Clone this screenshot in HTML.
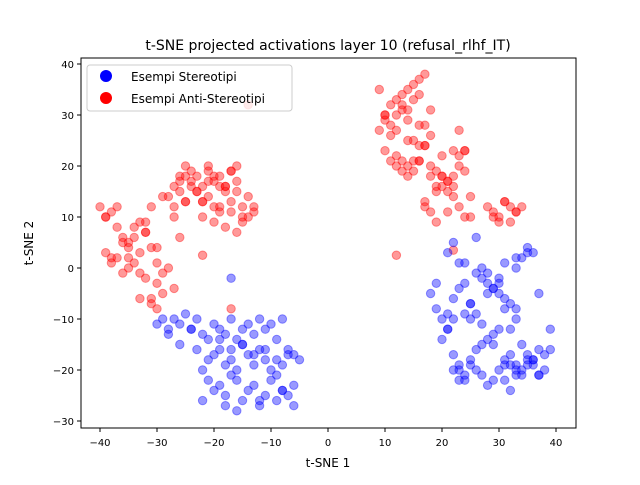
<!DOCTYPE html>
<html><head><meta charset="utf-8"><style>
body{margin:0;background:#fff}
svg text{font-family:"DejaVu Sans","Liberation Sans",sans-serif;fill:#000}
</style></head><body>
<svg id="c" width="640" height="480" xmlns="http://www.w3.org/2000/svg">
<rect width="640" height="480" fill="#fff"/>
<text x="328" y="50" font-size="14" text-anchor="middle">t-SNE projected activations layer 10 (refusal_rlhf_IT)</text>
<g id="marks"></g>
<rect x="81" y="58" width="495" height="370" fill="none" stroke="#000" stroke-width="1"/>
<g id="axes"></g>
<text x="328" y="467" font-size="12" text-anchor="middle">t-SNE 1</text>
<text x="33" y="243" font-size="12" text-anchor="middle" transform="rotate(-90 33 243)">t-SNE 2</text>
<g>
<rect x="87" y="65" width="205" height="46" rx="3" fill="#fff" fill-opacity="0.8" stroke="#ccc"/>
<g><circle cx="106" cy="76" r="6" fill="#00f"/><text x="131" y="81" font-size="12">Esempi Stereotipi</text></g>
<g><circle cx="106" cy="98" r="6" fill="#f00"/><text x="131" y="103" font-size="12">Esempi Anti-Stereotipi</text></g>
</g>
</svg>
<script>
const xTicks=[-40,-30,-20,-10,0,10,20,30,40];
const yTicks=[-30,-20,-10,0,10,20,30,40];
const redX=[-40,-39,-38,-37,-39,-36,-38,-35,-34,-36,-33,-35,-37,-32,-34,-31,-33,-30,-32,-29,-31,-30,-28,-29,-27,-31,-30,-33,-35,-38,-36,-34,-32,-37,-39,-35,-33,-31,-29,-27,-26,-30,-32,
-28,-27,-26,-25,-24,-23,-22,-21,-20,-19,-18,-17,-16,-15,-14,-13,-26,-25,-24,-22,-21,-20,-19,-18,-17,-16,-14,-13,-27,-25,-23,-21,-19,-17,-15,-20,-18,-16,-22,-24,-26,-19,-17,-21,-23,-16,-15,-25,-22,-18,-20,-14,
10,11,12,13,14,15,16,17,18,9,10,11,12,13,14,15,16,17,12,13,14,15,16,18,19,20,21,22,23,24,25,17,18,19,20,21,22,23,24,14,15,16,17,10,11,12,13,15,17,19,21,22,23,24,20,18,16,14,13,11,9,10,12,14,16,18,20,22,24,17,19,21,23,25,
28,29,30,31,32,33,34,29,31,33,30,32,
-22,12,22,-17];
const redY=[12,10,11,8,3,6,2,5,1,-1,3,0,2,7,8,4,9,1,-2,-5,-6,-3,0,-1,-4,-7,-8,-6,4,1,5,6,7,12,10,2,-1,12,14,10,6,4,9,
14,16,18,20,17,15,13,19,17,18,16,13,15,12,10,11,17,18,19,16,20,18,16,15,19,17,14,12,12,13,15,14,12,11,10,9,8,7,13,16,15,11,19,17,18,20,9,13,10,16,12,
32,30,28,33,34,35,36,37,38,31,27,29,26,30,32,31,33,34,24,22,21,20,25,21,20,19,18,17,16,22,19,14,12,11,15,18,17,23,27,23,18,21,24,28,23,21,20,19,19,24,16,15,18,20,23,22,26,28,29,31,32,35,30,27,25,21,18,16,14,10,13,9,11,12,10,
12,11,10,13,9,11,12,10,13,11,9,12,
2.5,2.5,3.5,-8];
const blueX=[-30,-29,-28,-27,-26,-25,-24,-23,-22,-21,-20,-19,-18,-17,-16,-15,-14,-13,-12,-11,-10,-9,-8,-7,-6,-5,-22,-21,-20,-19,-18,-17,-16,-15,-14,-13,-12,-11,-10,-9,-8,-7,-6,-20,-19,-18,-17,-16,-15,-14,-13,-12,-11,-10,-9,-8,-7,-28,-26,-24,-23,-21,-19,-17,-15,-13,-11,-9,-22,-18,-16,-12,-8,-6,-17,
18,19,20,21,22,23,24,25,26,27,28,29,30,31,32,33,34,35,36,37,38,39,20,21,22,23,24,25,26,27,28,29,30,31,32,33,34,35,36,37,38,22,23,24,25,26,27,28,29,30,31,32,33,21,22,23,24,25,26,27,28,29,30,31,32,33,34,35,36,37,31,32,33,34,35,36,31,33,35,22,24,26,28,30,19,23,27,21,25,29,33,37,39];
const blueY=[-11,-10,-12,-10,-11,-9,-12,-10,-13,-14,-11,-12,-13,-10,-14,-12,-11,-13,-10,-12,-11,-14,-10,-16,-17,-18,-20,-22,-24,-23,-25,-21,-22,-26,-24,-23,-27,-25,-22,-26,-24,-25,-27,-17,-16,-19,-18,-20,-15,-17,-19,-16,-18,-20,-21,-19,-17,-13,-15,-12,-16,-18,-14,-16,-15,-17,-16,-18,-26,-27,-28,-26,-24,-23,-2,
-5,-8,-10,-12,-6,-4,-3,-7,-9,-11,-5,-4,-3,-8,-12,-10,-15,-17,-18,-16,-17,-16,-14,-12,-20,-22,-21,-19,-20,-21,-23,-22,-20,-18,-19,-21,-20,-18,-19,-21,-20,-17,-19,-9,-7,-1,-2,-3,-4,-5,-6,-7,-8,-9,-10,-20,-22,-18,-16,-15,-14,-13,-12,-19,-24,-20,-21,-19,-18,-21,-22,-17,-19,2,4,3,1,2,3,5,1,6,-1,-2,-3,1,0,3,-10,-15,0,-5,-12,-16,-18];
const X=v=>328+(v*5.7), Y=v=>268-(v*5.1);
const NS='http://www.w3.org/2000/svg';
const marks=document.getElementById('marks'), axes=document.getElementById('axes');
function dot(x,y,col,name){const c=document.createElementNS(NS,'circle');c.setAttribute('cx',X(x));c.setAttribute('cy',Y(y));c.setAttribute('r',4.2);c.setAttribute('fill',col);c.setAttribute('fill-opacity',0.4);c.setAttribute('stroke',col);c.setAttribute('stroke-opacity',0.4);


marks.appendChild(c);}
redX.forEach((x,i)=>dot(x,redY[i],'#f00','point-anti-stereotipi'));
blueX.forEach((x,i)=>dot(x,blueY[i],'#00f','point-stereotipi'));
xTicks.forEach(t=>{const l=document.createElementNS(NS,'line');l.setAttribute('x1',X(t));l.setAttribute('x2',X(t));l.setAttribute('y1',428);l.setAttribute('y2',432);l.setAttribute('stroke','#000');


axes.appendChild(l);const s=document.createElementNS(NS,'text');s.setAttribute('x',X(t));s.setAttribute('y',446);s.setAttribute('font-size',10);s.setAttribute('text-anchor','middle');s.textContent=t<0?'\u2212'+(-t):t;


axes.appendChild(s);});
yTicks.forEach(t=>{const l=document.createElementNS(NS,'line');l.setAttribute('x1',77);l.setAttribute('x2',81);l.setAttribute('y1',Y(t));l.setAttribute('y2',Y(t));l.setAttribute('stroke','#000');


axes.appendChild(l);const s=document.createElementNS(NS,'text');s.setAttribute('x',74);s.setAttribute('y',Y(t)+4);s.setAttribute('font-size',10);s.setAttribute('text-anchor','end');s.textContent=t<0?'\u2212'+(-t):t;


axes.appendChild(s);});
</script>
</body></html>
